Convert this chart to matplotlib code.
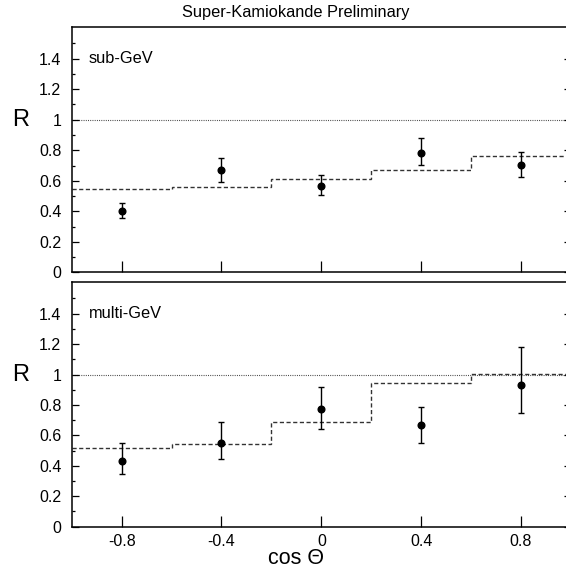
import matplotlib
matplotlib.use('Agg')
import matplotlib.pyplot as plt
import numpy as np

# ---------------------------------------------------

cos_theta = [-0.8, -0.4, 0.0, 0.4, 0.8]
bin_edges = [-1.0, -0.6, -0.2, 0.2, 0.6, 1.0]

sub_R = [0.402, 0.669, 0.568, 0.784, 0.704]
sub_err_lo = [0.046, 0.077, 0.063, 0.082, 0.079]
sub_err_hi = [0.050, 0.083, 0.068, 0.095, 0.083]
sub_mc = [0.546, 0.561, 0.610, 0.673, 0.765]

multi_R = [0.433, 0.553, 0.776, 0.665, 0.931]
multi_err_lo = [0.085, 0.111, 0.131, 0.112, 0.181]
multi_err_hi = [0.116, 0.136, 0.145, 0.122, 0.247]
multi_mc = [0.516, 0.544, 0.691, 0.942, 1.001]

panel_labels = ['sub-GeV', 'multi-GeV']
fig_name = 'out.png'

# ---------------------------------------------------

plt.rcParams['font.family'] = ['Liberation Sans', 'DejaVu Sans']
plt.rcParams['axes.unicode_minus'] = False
plt.rcParams['font.size'] = 11.5

fig = plt.figure(figsize=(5.66, 5.70), dpi=100)
ax_top = fig.add_axes([0.1267, 0.5223, 0.882, 0.4309])
ax_bot = fig.add_axes([0.1267, 0.0760, 0.882, 0.4298])

panels = [
    (ax_top, sub_R, sub_err_lo, sub_err_hi, sub_mc, panel_labels[0]),
    (ax_bot, multi_R, multi_err_lo, multi_err_hi, multi_mc, panel_labels[1]),
]

for ax, R, elo, ehi, mc, label in panels:
    ax.axhline(1.0, color='#333333', linestyle=(0, (0.8, 1.2)), linewidth=0.8, zorder=1)
    ax.stairs(mc, bin_edges, baseline=None, color='#333333',
              linestyle=(0, (3, 1.8)), linewidth=1.0, zorder=2)
    ax.errorbar(cos_theta, R, yerr=[elo, ehi], fmt='o', color='black',
                markersize=4.8, elinewidth=1.0, capsize=2.2, capthick=1.0, zorder=3)

    ax.set_xlim(-1.0, 1.0)
    ax.set_ylim(0, 1.61)
    ax.set_xticks(cos_theta)
    ax.set_yticks(np.arange(0, 1.41, 0.2))
    ax.set_yticks(np.arange(0.1, 1.6, 0.2), minor=True)
    ax.set_yticklabels(['0', '0.2', '0.4', '0.6', '0.8', '1', '1.2', '1.4'])
    ax.tick_params(axis='y', which='major', direction='in', length=5, width=0.9,
                   right=True, pad=7.5)
    ax.tick_params(axis='y', which='minor', direction='in', length=2.5, width=0.9,
                   right=True)
    ax.tick_params(axis='x', which='major', direction='in', length=8, width=0.9,
                   top=False, pad=5)
    for s in ax.spines.values():
        s.set_linewidth(1.1)

    ax.text(0.034, 1.4, label, transform=ax.get_yaxis_transform(),
            ha='left', va='center', fontsize=11.8)
    ax.text(-0.1015, 1.0, 'R', transform=ax.get_yaxis_transform(),
            ha='center', va='center', fontsize=17)

ax_top.tick_params(axis='x', labelbottom=False)
ax_bot.set_xticklabels(['-0.8', '-0.4', '0', '0.4', '0.8'])

fig.text(296 / 566, 1 - 12 / 570, 'Super-Kamiokande Preliminary',
         ha='center', va='center', fontsize=11.8)
fig.text(296 / 566, 1 - 559 / 570, 'cos \u0398', ha='center', va='center', fontsize=15.5)

plt.savefig(fig_name, dpi=100)
